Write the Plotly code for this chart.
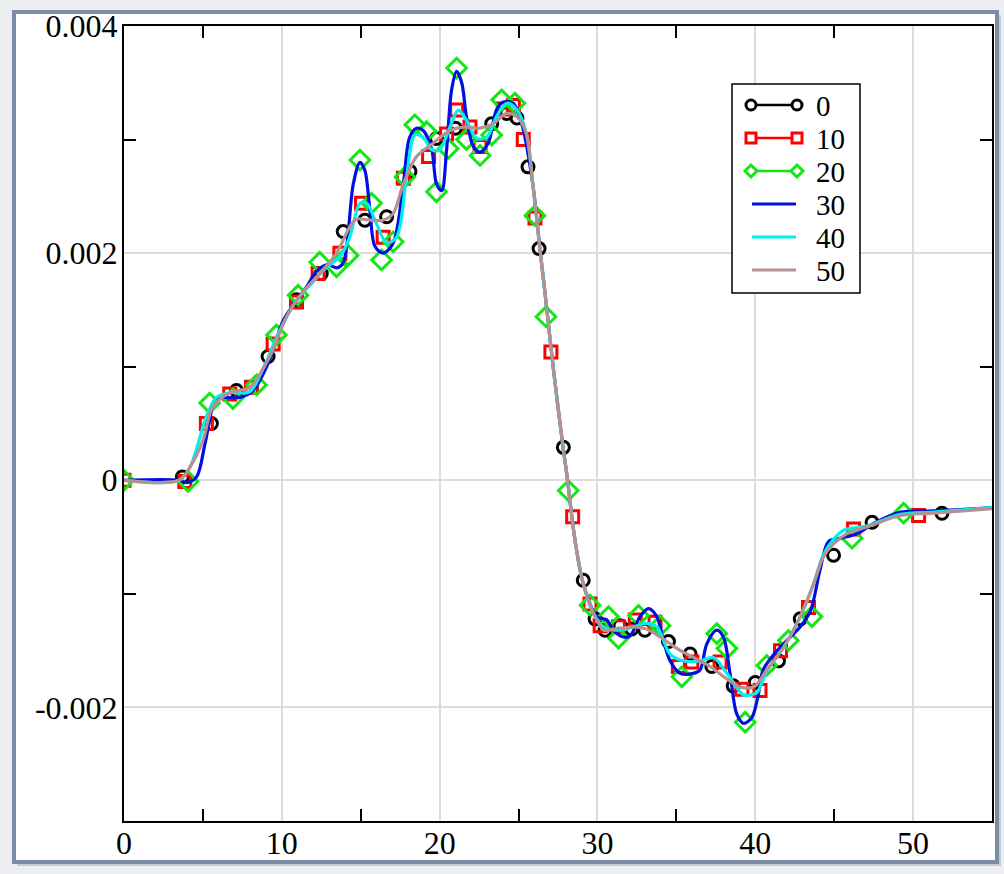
import plotly.graph_objects as go

# ---------------- data ----------------
# smooth curves (series 30, 40, 50)
x30 = [0, 3.5, 4.0, 4.6, 5.1, 5.43, 5.75, 6.28, 7.34, 8.18, 9.2, 10.1, 11.56, 12.2, 12.9, 13.5, 13.9,
       14.53, 14.95, 15.26, 15.58, 15.9, 16.42, 17.06, 17.7, 18.1, 18.54, 18.96, 19.5, 19.8, 20.13,
       20.44, 20.76, 21.08, 21.4, 21.7, 22.13, 22.56, 23.08, 23.6, 24.03, 24.67, 25.2, 25.9, 26.36,
       26.7, 27.2, 27.82, 28.05, 28.58, 29.1, 29.95, 30.6, 31.0, 31.64, 32.07, 32.7, 33.23, 33.76,
       34.18, 34.6, 35.24, 36.08, 36.5, 36.93, 37.56, 37.98, 38.4, 38.83, 39.25, 39.78, 40.2, 40.5,
       41.2, 42.0, 42.85, 43.5, 44.1, 44.64, 45.4, 46.44, 47.5, 49.2, 51.3, 55]
y30 = [0, 0, -0.00002, 0.00003, 0.0003, 0.00053, 0.00071, 0.00073, 0.00073, 0.00079, 0.00105, 0.00141,
       0.0017, 0.00184, 0.0019, 0.00187, 0.00192, 0.00261, 0.0028, 0.00273, 0.00238, 0.00206, 0.002,
       0.00209, 0.00261, 0.00302, 0.0031, 0.00308, 0.00291, 0.00261, 0.00255, 0.00291, 0.00344, 0.0036,
       0.0035, 0.0032, 0.00294, 0.00289, 0.00297, 0.00326, 0.00333, 0.00332, 0.00314, 0.00261, 0.00203,
       0.00162, 0.00099, 0.00029, 0.00006, -0.00053, -0.00091, -0.0012, -0.00123, -0.00132, -0.00138,
       -0.00137, -0.0012, -0.00113, -0.0012, -0.00141, -0.00159, -0.0017, -0.0017, -0.00167, -0.00144,
       -0.00132, -0.00138, -0.0017, -0.00206, -0.00214, -0.00209, -0.00188, -0.00167, -0.00153, -0.00141,
       -0.00129, -0.00115, -0.00079, -0.00054, -0.00051, -0.00047, -0.00038, -0.00028, -0.00027, -0.00024]

x40 = [0, 3.5, 4.2, 5.22, 5.86, 6.7, 7.97, 8.8, 9.8, 10.9, 11.8, 12.8, 13.7, 14.3, 14.95, 15.37, 16.0,
       16.64, 17.27, 17.9, 18.43, 18.96, 19.5, 20.0, 20.65, 21.18, 21.7, 22.35, 22.98, 23.6, 24.25, 24.9,
       25.5, 25.9, 26.36, 26.7, 27.2, 27.82, 28.05, 28.58, 29.1, 29.74, 30.4, 31.43, 32.3, 33.1, 33.76,
       34.6, 35.45, 36.5, 37.35, 38.2, 39.25, 39.67, 40.1, 40.73, 41.8, 42.85, 43.7, 44.3, 44.96, 45.6,
       47.1, 49.2, 51.3, 55]
y40 = [0, 0, 0.00012, 0.00056, 0.00073, 0.00077, 0.00078, 0.00098, 0.0013, 0.00158, 0.00172, 0.00187,
       0.00197, 0.00214, 0.00244, 0.00244, 0.00226, 0.00209, 0.00214, 0.00267, 0.00304, 0.00302, 0.00291,
       0.00291, 0.00311, 0.00326, 0.00317, 0.00301, 0.00302, 0.0032, 0.00332, 0.00326, 0.00305, 0.00261,
       0.00203, 0.00162, 0.00099, 0.00029, 0.00006, -0.00053, -0.00091, -0.00117, -0.00129, -0.00132,
       -0.00129, -0.00126, -0.00129, -0.00153, -0.00159, -0.00159, -0.00156, -0.0017, -0.00189, -0.00189,
       -0.00187, -0.00168, -0.00147, -0.0012, -0.00091, -0.00066, -0.00052, -0.00044, -0.0004, -0.0003,
       -0.00028, -0.00024]

x50 = [0, 3.5, 4.2, 5.0, 5.64, 6.7, 7.97, 9.24, 10.3, 11.3, 12.2, 13.47, 14.3, 14.74, 15.6, 16.4, 17.06,
       17.7, 18.54, 19.6, 20.65, 21.5, 22.56, 23.4, 24.25, 24.9, 25.5, 25.9, 26.36, 26.7, 27.2, 27.82,
       28.05, 28.58, 29.1, 29.74, 30.4, 31.0, 32.3, 33.1, 33.97, 35.03, 36.08, 37.14, 38.2, 39.04, 39.9,
       40.73, 41.8, 42.85, 43.7, 44.3, 44.96, 45.8, 47.1, 49.2, 51.3, 55]
y50 = [0, 0, 0.00012, 0.00035, 0.00065, 0.00077, 0.00082, 0.00109, 0.00144, 0.00165, 0.00179, 0.002,
       0.00223, 0.0023, 0.00229, 0.00229, 0.00235, 0.00261, 0.00285, 0.00297, 0.00308, 0.00311, 0.0031,
       0.00314, 0.00323, 0.0032, 0.00305, 0.00261, 0.00203, 0.00162, 0.00099, 0.00029, 0.00006, -0.00053,
       -0.00091, -0.00117, -0.00132, -0.00131, -0.00129, -0.00131, -0.00138, -0.00148, -0.00156, -0.00164,
       -0.00175, -0.00182, -0.00182, -0.00167, -0.00147, -0.0012, -0.00091, -0.00068, -0.00056, -0.00047,
       -0.00041, -0.00031, -0.00029, -0.00025]

# marker series (0, 10, 20)
x0 = [3.7, 5.54, 7.13, 9.13, 10.93, 12.5, 13.89, 15.26, 16.64, 18.12, 19.8, 21.0, 23.3, 24.25, 24.9,
      25.6, 26.3, 27.84, 29.1, 29.85, 30.48, 31.43, 32.17, 33.0, 34.5, 35.87, 37.25, 38.6, 40.0, 41.47,
      42.85, 44.96, 47.4, 51.83]
y0 = [0.00003, 0.0005, 0.00079, 0.00109, 0.00159, 0.00182, 0.00219, 0.00229, 0.00232, 0.00272, 0.00301,
      0.0031, 0.00314, 0.00323, 0.00319, 0.00276, 0.00204, 0.00029, -0.00088, -0.00122, -0.00132,
      -0.00128, -0.00131, -0.00132, -0.00142, -0.00153, -0.00164, -0.00181, -0.00178, -0.00159, -0.00122,
      -0.00066, -0.00037, -0.00029]

x10 = [0, 3.85, 5.22, 6.7, 8.08, 9.45, 10.93, 12.3, 13.68, 15.05, 16.42, 17.7, 19.3, 20.44, 21.08, 21.92,
       22.56, 24.03, 24.67, 25.3, 26.04, 27.05, 28.43, 29.53, 30.17, 31.33, 32.4, 33.65, 35.13, 35.98,
       37.77, 39.15, 40.3, 41.6, 43.37, 46.23, 50.35]
y10 = [0, -0.00001, 0.0005, 0.00076, 0.00082, 0.0012, 0.00157, 0.00182, 0.002, 0.00244, 0.00214, 0.00266,
       0.00285, 0.00305, 0.00326, 0.00311, 0.00294, 0.00327, 0.0033, 0.003, 0.00231, 0.00113, -0.00032,
       -0.00109, -0.00128, -0.00129, -0.00123, -0.00125, -0.00164, -0.0016, -0.0016, -0.00184, -0.00185,
       -0.0015, -0.00112, -0.00043, -0.00031]

x20 = [0, 4.06, 5.43, 6.9, 8.4, 9.66, 11.03, 12.4, 13.47, 14.2, 14.95, 15.69, 16.32, 17.06, 17.8, 18.43,
       19.17, 19.8, 20.54, 21.08, 21.7, 22.56, 23.3, 23.93, 24.77, 26.04, 26.74, 28.15, 29.53, 30.7, 31.33,
       32.6, 33.97, 35.35, 37.56, 38.2, 39.36, 40.73, 42.1, 43.59, 46.13, 49.4]
y20 = [0, -0.00001, 0.00068, 0.00072, 0.00084, 0.00128, 0.00163, 0.00192, 0.00188, 0.00198, 0.00282,
       0.00244, 0.00194, 0.0021, 0.00267, 0.00313, 0.00307, 0.00254, 0.00292, 0.00363, 0.003, 0.00286,
       0.00304, 0.00335, 0.00332, 0.00233, 0.00144, -0.00009, -0.0011, -0.0012, -0.00139, -0.00119,
       -0.00128, -0.00173, -0.00135, -0.00148, -0.00213, -0.00163, -0.00141, -0.0012, -0.00051, -0.00029]

legend_names = ["0", "10", "20", "30", "40", "50"]
x_tickvals = [0, 10, 20, 30, 40, 50]
x_ticktext = ["0", "10", "20", "30", "40", "50"]
x_minor = [5, 15, 25, 35, 45]
y_tickvals = [-0.002, 0, 0.002, 0.004]
y_ticktext = ["-0.002", "0", "0.002", "0.004"]
y_minor = [-0.001, 0.001, 0.003]

# ---------------- figure ----------------
FONT = "Liberation Serif, Times New Roman, serif"
GREEN = "#14e614"
fig = go.Figure()

marker_series = [
    (legend_names[0], x0, y0, "black", "circle-open", 12),
    (legend_names[1], x10, y10, "#ff0000", "square-open", 12),
    (legend_names[2], x20, y20, GREEN, "diamond-open", 15),
]
# markers (drawn beneath the curves)
for name, xs, ys, col, sym, sz in marker_series:
    fig.add_trace(go.Scatter(x=xs, y=ys, mode="markers", name=name, showlegend=False,
                             marker=dict(symbol=sym, size=sz, color=col, line=dict(color=col, width=3))))

line_series = [
    (legend_names[3], x30, y30, "#0010e0"),
    (legend_names[4], x40, y40, "#00f0f0"),
    (legend_names[5], x50, y50, "#b89090"),
]
for name, xs, ys, col in line_series:
    fig.add_trace(go.Scatter(x=xs, y=ys, mode="lines", name=name, showlegend=False,
                             line=dict(color=col, width=3.2, shape="spline", smoothing=0.9)))

L, R, T, B = 124, 12, 26, 53
W, H = 1004, 874
pw, ph = W - L - R, H - T - B


def px_x(p):
    return (p - L) / pw


def px_y(p):
    return (H - B - p) / ph


shapes = [
    # drop shadow of the outer frame
    dict(type="rect", xref="paper", yref="paper", layer="below",
         x0=px_x(17), x1=px_x(1001), y0=px_y(866), y1=px_y(15),
         fillcolor="#c5ccd6", line=dict(width=0)),
    # outer frame
    dict(type="rect", xref="paper", yref="paper", layer="below",
         x0=px_x(14), x1=px_x(997), y0=px_y(862), y1=px_y(12),
         fillcolor="white", line=dict(color="#7d8ca6", width=4)),
]

# ---- legend box drawn in the style of the original (line with a symbol at each end) ----
annotations = []
LX0, LX1, LY0, LY1 = 732, 860, 84, 293
shapes.append(dict(type="rect", xref="paper", yref="paper", layer="above",
                   x0=px_x(LX0), x1=px_x(LX1), y0=px_y(LY1), y1=px_y(LY0),
                   fillcolor="white", line=dict(color="black", width=1.5)))
legend_items = [(s[0], s[3], s[4]) for s in marker_series] + [(s[0], s[3], None) for s in line_series]
for i, (name, col, sym) in enumerate(legend_items):
    yc = 105 + 33 * i
    xa, xb = 751, 797
    shapes.append(dict(type="line", xref="paper", yref="paper", layer="above",
                       x0=px_x(xa if sym else 752), x1=px_x(xb if sym else 796), y0=px_y(yc), y1=px_y(yc),
                       line=dict(color=col, width=2.5 if sym else 3.2)))
    if sym:
        for xc in (xa, xb):
            if sym.startswith("circle"):
                shapes.append(dict(type="circle", xref="paper", yref="paper", layer="above",
                                   x0=px_x(xc - 5), x1=px_x(xc + 5), y0=px_y(yc + 5), y1=px_y(yc - 5),
                                   fillcolor="white", line=dict(color=col, width=3)))
            elif sym.startswith("square"):
                shapes.append(dict(type="rect", xref="paper", yref="paper", layer="above",
                                   x0=px_x(xc - 5), x1=px_x(xc + 5), y0=px_y(yc + 5), y1=px_y(yc - 5),
                                   fillcolor="white", line=dict(color=col, width=3)))
            else:
                d = 6
                path = "M{},{} L{},{} L{},{} L{},{} Z".format(
                    px_x(xc - d), px_y(yc), px_x(xc), px_y(yc - d),
                    px_x(xc + d), px_y(yc), px_x(xc), px_y(yc + d))
                shapes.append(dict(type="path", xref="paper", yref="paper", layer="above", path=path,
                                   fillcolor="white", line=dict(color=col, width=3)))
    annotations.append(dict(xref="paper", yref="paper", x=px_x(814), y=px_y(yc + 1),
                            xanchor="left", yanchor="middle", text=name, showarrow=False,
                            font=dict(family=FONT, size=29, color="black")))

axis_common = dict(
    showline=True, linecolor="black", linewidth=2, mirror="allticks",
    showgrid=True, gridcolor="#dcdcdc", gridwidth=1.5, zeroline=False,
    ticks="", tickfont=dict(family=FONT, size=32, color="black"),
)

fig.update_xaxes(range=[0, 55], tickmode="array", tickvals=x_tickvals, ticktext=x_ticktext,
                 minor=dict(tickmode="array", tickvals=x_minor, ticks="inside", ticklen=12,
                            tickwidth=1.5, tickcolor="black", showgrid=False),
                 ticklabelstandoff=-7, **axis_common)
fig.update_yaxes(range=[-0.003, 0.004], tickmode="array", tickvals=y_tickvals, ticktext=y_ticktext,
                 minor=dict(tickmode="array", tickvals=y_minor, ticks="inside", ticklen=12,
                            tickwidth=1.5, tickcolor="black", showgrid=False),
                 ticklabelstandoff=-2, **axis_common)

fig.update_layout(
    width=W, height=H, margin=dict(l=L, r=R, t=T, b=B, autoexpand=False),
    paper_bgcolor="#eceef2", plot_bgcolor="white",
    font=dict(family=FONT, color="black"),
    shapes=shapes, annotations=annotations, showlegend=False,
)

fig.write_html("out.html")
